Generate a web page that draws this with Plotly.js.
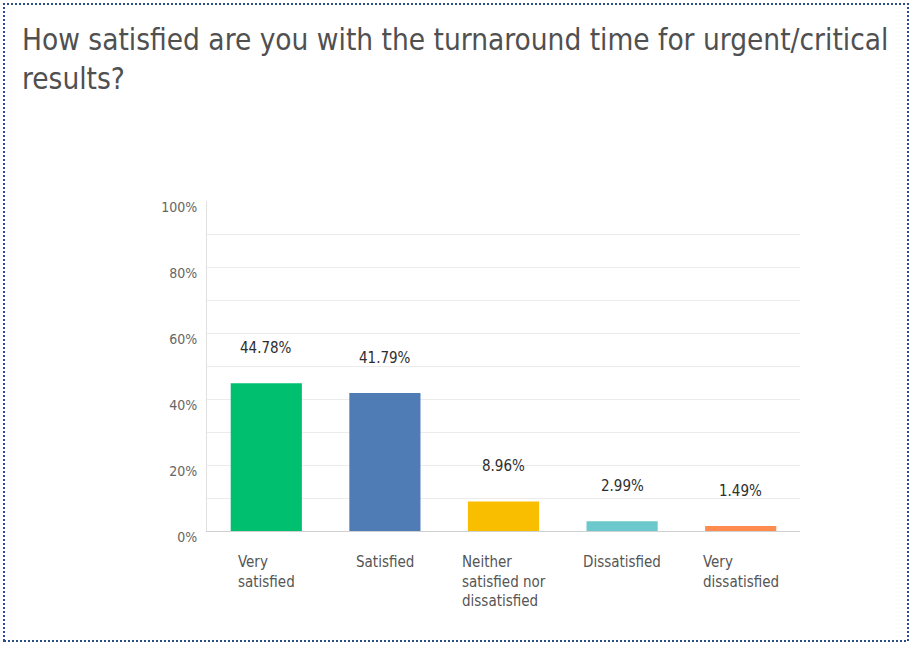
<!DOCTYPE html>
<html>
<head>
<meta charset="utf-8">
<script src="https://cdn.plot.ly/plotly-3.0.1.min.js"></script>
<style>
  html, body { margin: 0; padding: 0; background: #ffffff; }
  #chart { width: 912px; height: 646px; }
</style>
</head>
<body>
<div id="chart"></div>
<script>
// ---- data ----
const categories = ["Very satisfied", "Satisfied", "Neither satisfied nor dissatisfied", "Dissatisfied", "Very dissatisfied"];
const categoryLabels = ["Very<br>satisfied", "Satisfied", "Neither<br>satisfied nor<br>dissatisfied", "Dissatisfied", "Very<br>dissatisfied"];
const values = [44.78, 41.79, 8.96, 2.99, 1.49];
const valueLabels = ["44.78%", "41.79%", "8.96%", "2.99%", "1.49%"];
const barColors = ["#00bf6f", "#507cb6", "#f9be00", "#6bc8cd", "#ff8b4f"];
const yTickVals = [0, 20, 40, 60, 80, 100];
const yTickText = ["0%", "20%", "40%", "60%", "80%", "100%"];
const titleText = "How satisfied are you with the turnaround time for urgent/critical<br>results?";

const narrow = "'DejaVu Sans Condensed', 'Liberation Sans Narrow', 'Roboto', sans-serif";

const trace = {
  type: "bar",
  x: categories,
  y: values,
  width: 0.6,
  marker: { color: barColors },
  hoverinfo: "skip"
};

const annotations = [];
categories.forEach((c, i) => {
  annotations.push({
    x: c, y: values[i], xref: "x", yref: "y",
    text: valueLabels[i], showarrow: false,
    yanchor: "bottom", yshift: 24,
    font: { family: narrow, size: 15, color: "#2e2e2e" }
  });
  annotations.push({
    x: c, y: 0, xref: "x", yref: "paper",
    text: categoryLabels[i], showarrow: false,
    xanchor: "center", yanchor: "top", align: "left", yshift: -20,
    font: { family: narrow, size: 15, color: "#555555" }
  });
});

const layout = {
  width: 912, height: 646,
  paper_bgcolor: "#ffffff", plot_bgcolor: "#ffffff",
  margin: { l: 207, r: 112, t: 201, b: 115 },
  showlegend: false,
  title: {
    text: titleText,
    x: 22 / 912, xanchor: "left", xref: "container",
    y: 0.922, yanchor: "top", yref: "container",
    font: { family: narrow, size: 29.5, color: "#505050" }
  },
  xaxis: {
    type: "category",
    showticklabels: false,
    showgrid: false,
    showline: true, linecolor: "#d0d0d0", linewidth: 1,
    ticks: "", zeroline: false,
    fixedrange: true
  },
  yaxis: {
    range: [0, 100],
    tickvals: yTickVals, ticktext: yTickText,
    tickfont: { family: narrow, size: 14, color: "#666666" },
    ticklabelstandoff: 6,
    ticklabelshift: 6,
    showgrid: true, gridcolor: "#ececec", gridwidth: 1,
    minor: { dtick: 10, showgrid: true, gridcolor: "#ececec", gridwidth: 1 },
    showline: true, linecolor: "#e0e0e0", linewidth: 1,
    zeroline: false, ticks: "",
    fixedrange: true
  },
  annotations: annotations,
  shapes: [{
    type: "rect", xref: "paper", yref: "paper",
    x0: (4 - 207) / 593, x1: (908 - 207) / 593,
    y0: (531 - 641) / 330, y1: (531 - 4) / 330,
    line: { color: "#2a4d8c", width: 2, dash: "2px,2px" },
    fillcolor: "rgba(0,0,0,0)"
  }]
};

Plotly.newPlot("chart", [trace], layout, { displayModeBar: false, staticPlot: true });
</script>
</body>
</html>
